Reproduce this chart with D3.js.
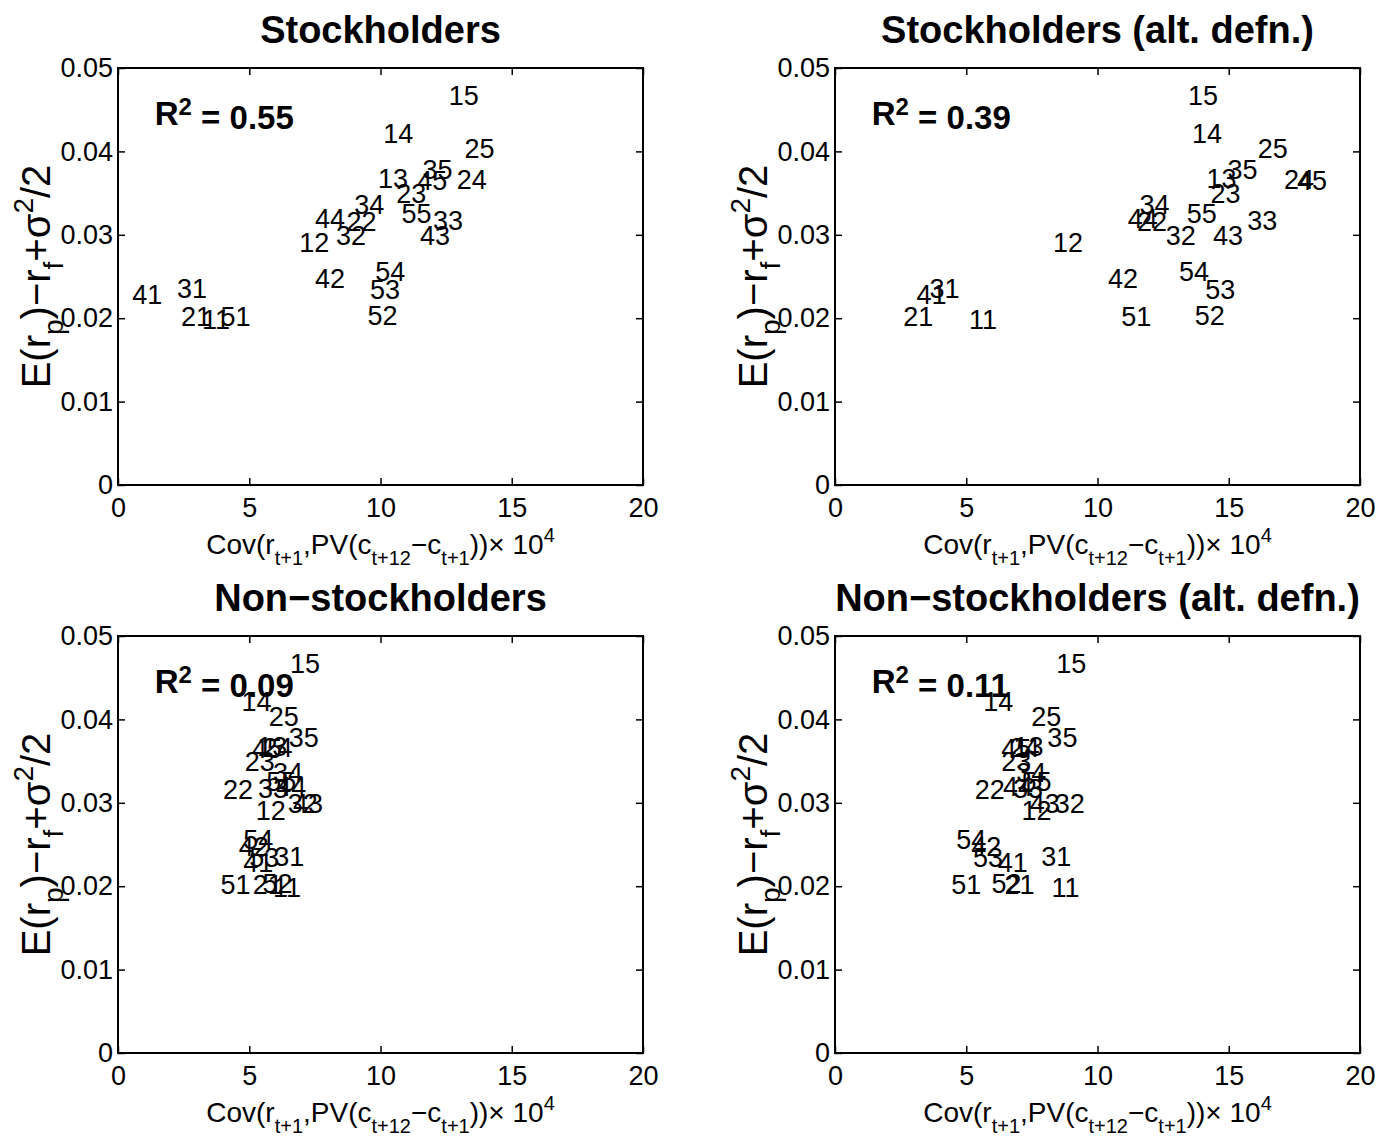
<!DOCTYPE html>
<html><head><meta charset="utf-8">
<script src="https://cdn.jsdelivr.net/npm/d3@7"></script>
<style>
body{margin:0;background:#fff;}
svg{display:block;}
text{font-family:"Liberation Sans",Arial,Helvetica,sans-serif;fill:#000;}
</style></head>
<body>
<script>
const labels = ["11","12","13","14","15","21","22","23","24","25","31","32","33","34","35","41","42","43","44","45","51","52","53","54","55"];
const excessReturn = [0.0198,0.0291,0.0368,0.0422,0.0467, 0.0202,0.0316,0.0349,0.0366,0.0403, 0.0235,0.0299,0.0317,0.0336,0.0378, 0.0228,0.0248,0.0299,0.0320,0.0365, 0.0202,0.0203,0.0234,0.0256,0.0325];
const covStock = [3.2,6.9,9.9,10.1,12.6, 2.4,8.7,10.6,12.9,13.2, 2.25,8.3,12.0,9.0,11.6, 0.54,7.5,11.5,7.5,11.4, 3.9,9.5,9.6,9.8,10.8];
const covStockAlt = [5.1,8.3,14.15,13.6,13.45, 2.6,11.5,14.3,17.1,16.1, 3.6,12.6,15.7,11.6,14.95, 3.1,10.4,14.4,11.15,17.6, 10.9,13.7,14.1,13.1,13.4];
const covNon = [5.9,5.25,5.3,4.7,6.55, 5.13,4.0,4.83,5.5,5.74, 5.95,6.47,5.33,5.9,6.5, 4.77,4.6,6.67,6.03,5.1, 3.9,5.5,5.0,4.77,5.65];
const covNonAlt = [8.25,7.1,6.8,5.65,8.43, 6.46,5.32,6.33,6.65,7.48, 7.86,8.37,6.78,6.9,8.09, 6.2,5.19,7.42,6.4,6.33, 4.43,5.96,5.26,4.62,7.1];
const titles = ["Stockholders","Stockholders (alt. defn.)","Non\u2212stockholders","Non\u2212stockholders (alt. defn.)"];
const r2Values = ["0.55","0.39","0.09","0.11"];
const xTicks = [0,5,10,15,20];
const xTickLabels = ["0","5","10","15","20"];
const yTicks = [0,0.01,0.02,0.03,0.04,0.05];
const yTickLabels = ["0","0.01","0.02","0.03","0.04","0.05"];

const W = 1379, H = 1143;
const svg = d3.select("body").append("svg").attr("width", W).attr("height", H);

const seriesX = [covStock, covStockAlt, covNon, covNonAlt];
const layout = [{l:118,t:68},{l:835,t:68},{l:118,t:636},{l:835,t:636}];
const PW = 525, PH = 417;
const FS = 27;

seriesX.forEach((xs, k) => {
  const {l, t} = layout[k];
  const x = d3.scaleLinear().domain([0,20]).range([l, l+PW]);
  const y = d3.scaleLinear().domain([0,0.05]).range([t+PH, t]);
  const g = svg.append("g");

  const styleAxis = (sel, showLabels) => {
    sel.select(".domain").remove();
    sel.selectAll(".tick line").attr("stroke","#000").attr("stroke-width",1.5);
    sel.selectAll(".tick text").style("font-size", FS+"px").attr("fill","#000");
    if (!showLabels) sel.selectAll(".tick text").remove();
  };
  g.append("g").attr("transform",`translate(0,${t+PH})`)
    .call(d3.axisBottom(x).tickValues(xTicks).tickFormat((d,i)=>xTickLabels[i]).tickSizeInner(-7).tickSizeOuter(0).tickPadding(13))
    .call(s=>styleAxis(s,true));
  g.append("g").attr("transform",`translate(0,${t})`)
    .call(d3.axisTop(x).tickValues(xTicks).tickSizeInner(-7).tickSizeOuter(0))
    .call(s=>styleAxis(s,false));
  g.append("g").attr("transform",`translate(${l},0)`)
    .call(d3.axisLeft(y).tickValues(yTicks).tickFormat((d,i)=>yTickLabels[i]).tickSizeInner(-7).tickSizeOuter(0).tickPadding(5))
    .call(s=>styleAxis(s,true));
  g.append("g").attr("transform",`translate(${l+PW},0)`)
    .call(d3.axisRight(y).tickValues(yTicks).tickSizeInner(-7).tickSizeOuter(0))
    .call(s=>styleAxis(s,false));

  g.append("rect").attr("x",l).attr("y",t).attr("width",PW).attr("height",PH)
    .attr("fill","none").attr("stroke","#000").attr("stroke-width",2);

  // data labels
  g.selectAll("text.pt").data(labels).join("text").attr("class","pt")
    .attr("x",(d,i)=>x(xs[i])).attr("y",(d,i)=>y(excessReturn[i]))
    .attr("dy","0.35em").style("font-size",FS+"px").text(d=>d);

  // R^2
  const rt = g.append("text").attr("x", x(1.4)).attr("y", y(0.0445)).attr("dy","0.35em")
    .style("font-size","33px").style("font-weight","bold");
  rt.append("tspan").text("R");
  rt.append("tspan").attr("dy","-0.45em").style("font-size","24px").text("2");
  rt.append("tspan").attr("dy","0.45em").text(" = " + r2Values[k]);

  // title
  g.append("text").attr("x", l+PW/2).attr("y", t-38).attr("dy","0.35em")
    .attr("text-anchor","middle").style("font-size","38px").style("font-weight","bold")
    .text(titles[k]);

  // x label
  const xl = g.append("text").attr("x", l+PW/2).attr("y", t+PH+69).attr("dy","0.35em")
    .attr("text-anchor","middle").style("font-size","28px");
  const parts = [["Cov(r",0],["t+1",1],[",PV(c",0],["t+12",1],["\u2212c",0],["t+1",1],["))\u00d7 10",0],["4",2]];
  let cur = 0;
  parts.forEach(([s,m])=>{
    const target = m===1 ? 11 : (m===2 ? -12 : 0);
    xl.append("tspan").attr("dy", (target-cur)+"px").style("font-size",(m?20:28)+"px").text(s);
    cur = target;
  });

  // y label (rotated)
  const yl = g.append("text").attr("transform",`translate(${l-68},${t+PH/2}) rotate(-90)`)
    .attr("text-anchor","middle").style("font-size","40px");
  const yparts = [["E(r",0],["p",1],[")\u2212r",0],["f",1],["+\u03c3",0],["2",2],["/2",0]];
  cur = 0;
  yparts.forEach(([s,m])=>{
    const target = m===1 ? 13 : (m===2 ? -17 : 0);
    yl.append("tspan").attr("dy", (target-cur)+"px").style("font-size",(m?28:40)+"px").text(s);
    cur = target;
  });
});
</script>
</body></html>
